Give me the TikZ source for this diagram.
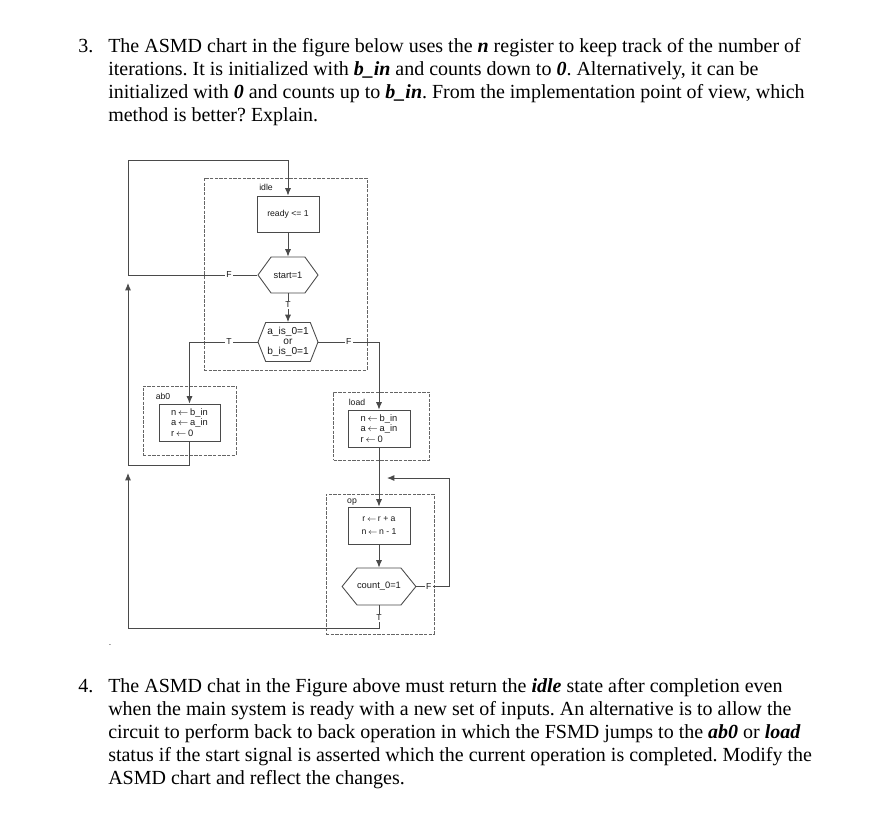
\documentclass[tikz,border=0pt]{standalone}
\usepackage{fontspec}
\setmainfont{Liberation Serif}
\newfontfamily\dfont{Liberation Sans}
\usetikzlibrary{arrows.meta,shapes.symbols}
\definecolor{ln}{HTML}{4a4a4a}
\definecolor{tx}{HTML}{1a1a1a}
\newcommand{\bi}[1]{\textbf{\textit{#1}}}
\newcommand{\la}{\,\(\leftarrow\)\,}
\frenchspacing
\begin{document}
\begin{tikzpicture}[x=0.75pt,y=-0.75pt,
 body/.style={anchor=base west,inner sep=0pt,font=\fontsize{15}{17}\selectfont,text=black},
 blk/.style={draw=ln!85,dash pattern=on 2.5pt off 1pt,line width=0.5pt,inner sep=0pt},
 box/.style={draw=ln,line width=0.65pt,inner sep=0pt,font=\dfont\fontsize{6.5}{8}\selectfont,text=tx},
 hexa/.style={draw=ln,line width=0.65pt,shape=signal,signal to=west and east,inner sep=0pt,font=\dfont\fontsize{7}{8}\selectfont,text=tx},
 conn/.style={draw=ln,line width=0.65pt},
 arr/.style={conn,-{Latex[length=5.5pt,width=4.5pt]}},
 lab/.style={fill=white,inner sep=1pt,font=\dfont\fontsize{6.5}{8}\selectfont,text=tx},
 sname/.style={inner sep=0pt,font=\dfont\fontsize{6.5}{8}\selectfont,text=tx}
]
\useasboundingbox[fill=white] (0,0) rectangle (874,822);

% question 3
\node[body] (n3) at (78,52) {3.};
\node[body] (q3a) at (108,52) {The ASMD chart in the figure below uses the \bi{n} register to keep track of the number of};
\node[body] (q3b) at (108,75) {iterations. It is initialized with \bi{b\_in} and counts down to \bi{0}. Alternatively, it can be};
\node[body] (q3c) at (108,98) {initialized with \bi{0} and counts up to \bi{b\_in}. From the implementation point of view, which};
\node[body] (q3d) at (108,121) {method is better? Explain.};

% question 4
\node[body] (n4) at (78,692) {4.};
\node[body] (q4a) at (108,692) {The ASMD chat in the Figure above must return the \bi{idle} state after completion even};
\node[body] (q4b) at (108,715) {when the main system is ready with a new set of inputs. An alternative is to allow the};
\node[body] (q4c) at (108,738) {circuit to perform back to back operation in which the FSMD jumps to the \bi{ab0} or \bi{load}};
\node[body] (q4d) at (108,761) {status if the start signal is asserted which the current operation is completed. Modify the};
\node[body] (q4e) at (108,784) {ASMD chart and reflect the changes.};
\node[sname] (dot) at (110,645) {.};

% state blocks (dashed)
\node[blk,minimum width=122.25pt,minimum height=144pt] (idleblk) at (285.5,274) {};
\node[blk,minimum width=69.75pt,minimum height=51.75pt] (ab0blk) at (189.5,420.5) {};
\node[blk,minimum width=72pt,minimum height=51pt] (loadblk) at (381.5,426) {};
\node[blk,minimum width=81pt,minimum height=105pt] (opblk) at (380,564) {};

\node[sname] (idlen) at (266,187) {idle};
\node[sname] (ab0n) at (163,396) {ab0};
\node[sname] (loadn) at (357,402) {load};
\node[sname] (opn) at (352,502) {op};

% boxes
\node[box,minimum width=46.5pt,minimum height=27pt] (ready) at (288,214) {ready <= 1};
\node[hexa,minimum width=45pt,minimum height=27pt,signal pointer angle=108] (start) at (288,275) {start=1};
\node[hexa,minimum width=45pt,minimum height=29.25pt,signal pointer angle=137] (dec) at (288,342) {};
\node[sname,align=center,font=\dfont\fontsize{7.6}{7.4}\selectfont] (dect) at (288,342) {a\_is\_0=1\\or\\b\_is\_0=1};
\node[box,minimum width=45.75pt,minimum height=27.75pt,align=left,font=\dfont\fontsize{7}{7.9}\selectfont] (ab0box) at (189.5,422.5) {n\la b\_in\\a\la a\_in\\r\la 0};
\node[box,minimum width=46.5pt,minimum height=27.75pt,align=left,font=\dfont\fontsize{7}{7.9}\selectfont] (loadbox) at (379,428.5) {n\la b\_in\\a\la a\_in\\r\la 0};
\node[box,minimum width=46.5pt,minimum height=27.75pt,align=center,font=\dfont\fontsize{6.5}{9.8}\selectfont] (opbox) at (379,525.5) {r\la r + a\\n\la n - 1};
\node[hexa,minimum width=45.75pt,minimum height=27.75pt,signal pointer angle=102] (count) at (379,586.5) {count\_0=1};

% corner points
\coordinate (cTop) at (128,160);
\coordinate (tip1) at (128,283);
\coordinate (cMid) at (128,465);
\coordinate (tip2) at (128,473);
\coordinate (cBot) at (128,628);
\coordinate (retC) at (449,478);
\coordinate (retTip) at (387,478);

% connectors
\draw[arr] (start.west) -- node[lab,pos=0.22]{F} (start.west -| cTop) -- (cTop) -| (ready.north);
\draw[arr] (ready.south) -- (start.north);
\draw[arr] (start.south) -- node[lab,pos=0.4]{T} (dec.north);
\draw[arr] (dec.west) -- node[lab,pos=0.42]{T} (dec.west -| ab0box.north) -- (ab0box.north);
\draw[arr] (dec.east) -- node[lab,pos=0.5]{F} (dec.east -| loadbox.north) -- (loadbox.north);
\draw[arr] (ab0box.south) |- (cMid) -- (tip1);
\draw[arr] (loadbox.south) -- (opbox.north);
\draw[arr] (opbox.south) -- (count.north);
\draw[arr] (count.east) -- node[lab,pos=0.375]{F} (count.east -| retC) -- (retC) -- (retTip);
\draw[arr] (count.south) -- node[lab,pos=0.55]{T} (count.south |- cBot) -- (cBot) -- (tip2);
\end{tikzpicture}
\end{document}
